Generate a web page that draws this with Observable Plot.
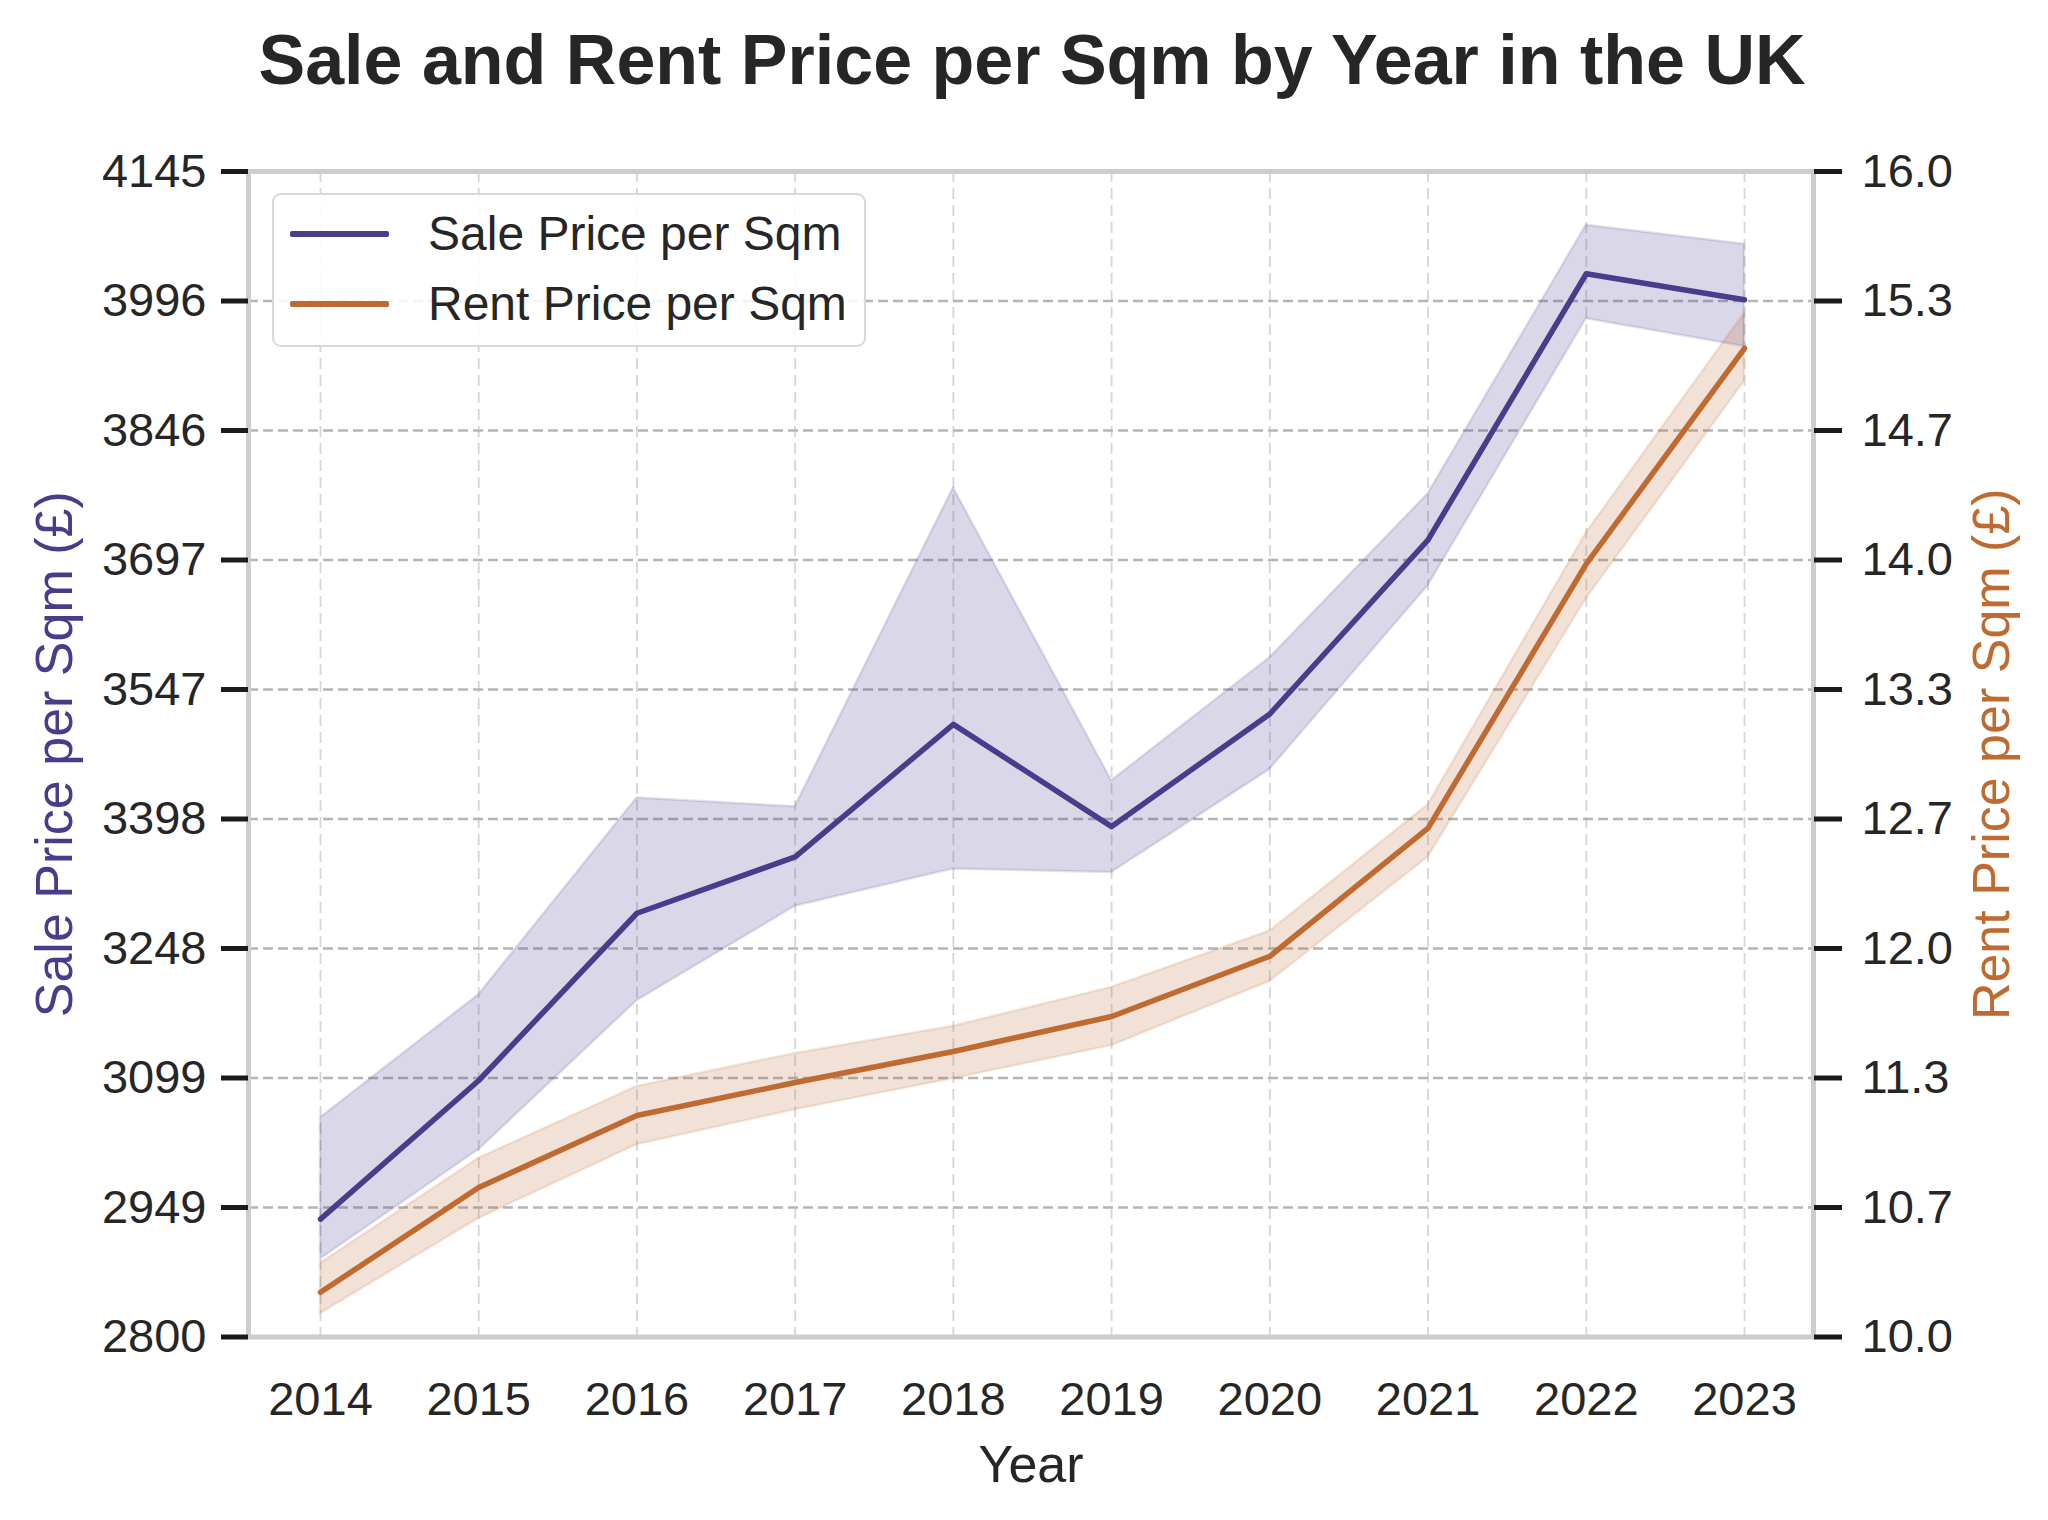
<!DOCTYPE html>
<html>
<head>
<meta charset="utf-8">
<script src="https://cdn.jsdelivr.net/npm/d3@7"></script>
<script src="https://cdn.jsdelivr.net/npm/@observablehq/plot@0.6"></script>
<style>
  html, body { margin: 0; padding: 0; background: #ffffff; }
  body { font-family: "Liberation Sans", Arial, sans-serif; color: #262626; }
  #wrap { position: relative; width: 2048px; height: 1520px; overflow: hidden; }
  #title {
    height: 120px; line-height: 120px; width: 2048px;
    padding-left: 16px; box-sizing: border-box;
    text-align: center; font-weight: bold; font-size: 70px; color: #262626;
    white-space: nowrap;
  }
  #legend {
    position: absolute; left: 272px; top: 193px; width: 594px; height: 154px;
    box-sizing: border-box; border: 2.5px solid #d9d9d9; border-radius: 9px;
    background: rgba(255,255,255,0.85);
  }
  .row { position: absolute; left: 0; height: 60px; width: 100%; }
  .swatch { position: absolute; left: 16px; top: 27px; width: 99px; height: 5.5px; border-radius: 2px; }
  .label { position: absolute; left: 154px; top: 0; height: 60px; line-height: 60px; font-size: 48px; color: #262626; white-space: nowrap; }
</style>
</head>
<body>
<div id="wrap">
  <div id="title">Sale and Rent Price per Sqm by Year in the UK</div>
  <div id="chart"></div>
  <div id="legend"></div>
</div>
<script>
// Yearly averages with their confidence bands
const years = [2014, 2015, 2016, 2017, 2018, 2019, 2020, 2021, 2022, 2023];

const saleMean = [2936, 3096, 3289, 3354, 3507, 3389, 3519, 3720, 4027, 3997];
const saleLow  = [2890, 3016, 3188, 3297, 3340, 3336, 3455, 3667, 3975, 3943];
const saleHigh = [3053, 3195, 3422, 3412, 3780, 3442, 3584, 3773, 4083, 4061];

const rentMean = [10.23, 10.77, 11.14, 11.31, 11.47, 11.65, 11.96, 12.62, 13.98, 15.09];
const rentLow  = [10.12, 10.61, 10.99, 11.17, 11.33, 11.50, 11.83, 12.47, 13.80, 14.92];
const rentHigh = [10.38, 10.92, 11.29, 11.46, 11.60, 11.80, 12.09, 12.74, 14.14, 15.27];

const saleTickLabels = ["2800", "2949", "3099", "3248", "3398", "3547", "3697", "3846", "3996", "4145"];
const rentTickLabels = ["10.0", "10.7", "11.3", "12.0", "12.7", "13.3", "14.0", "14.7", "15.3", "16.0"];

const seriesNames = ["Sale Price per Sqm", "Rent Price per Sqm"];
const axisTitles = { x: "Year", sale: "Sale Price per Sqm (£)", rent: "Rent Price per Sqm (£)" };
const colors = { sale: "#483d8b", rent: "#bf6a30" };

// Both axes share one vertical scale; rent values are mapped onto the sale domain
const saleDomain = [2800, 4145];
const rentDomain = [10, 16];
const ratio = (saleDomain[1] - saleDomain[0]) / (rentDomain[1] - rentDomain[0]);
const rentOnSale = r => saleDomain[0] + (r - rentDomain[0]) * ratio;

const rows = years.map((year, i) => ({
  year,
  sale: saleMean[i], saleLo: saleLow[i], saleHi: saleHigh[i],
  rent: rentOnSale(rentMean[i]), rentLo: rentOnSale(rentLow[i]), rentHi: rentOnSale(rentHigh[i])
}));

// Ten evenly spaced ticks spanning each axis
const tickPos = saleTickLabels.map((_, i) =>
  saleDomain[0] + i * (saleDomain[1] - saleDomain[0]) / (saleTickLabels.length - 1));
const leftLabel = d => saleTickLabels[tickPos.indexOf(d)];
const rightLabel = d => rentTickLabels[tickPos.indexOf(d)];

const chart = Plot.plot({
  width: 2048,
  height: 1400,
  marginTop: 51,
  marginBottom: 183.5,
  marginLeft: 248,
  marginRight: 235,
  style: { fontFamily: "Liberation Sans, Arial, sans-serif", fontSize: "46px", color: "#262626", background: "#ffffff" },
  x: { domain: [2013.545, 2023.436] },
  y: { domain: saleDomain },
  marks: [
    Plot.gridX(years, { stroke: "#d6d6d6", strokeOpacity: 1, strokeWidth: 1.8, strokeDasharray: "11,6" }),
    Plot.gridY(tickPos.slice(1, -1), { stroke: "#b5b5b5", strokeOpacity: 1, strokeWidth: 2.4, strokeDasharray: "10,5" }),
    Plot.areaY(rows, { x: "year", y1: "saleLo", y2: "saleHi", fill: colors.sale, fillOpacity: 0.2, stroke: colors.sale, strokeOpacity: 0.15, strokeWidth: 2.5 }),
    Plot.areaY(rows, { x: "year", y1: "rentLo", y2: "rentHi", fill: colors.rent, fillOpacity: 0.2, stroke: colors.rent, strokeOpacity: 0.15, strokeWidth: 2.5 }),
    Plot.lineY(rows, { x: "year", y: "sale", stroke: colors.sale, strokeWidth: 5.5 }),
    Plot.lineY(rows, { x: "year", y: "rent", stroke: colors.rent, strokeWidth: 5.5 }),
    Plot.frame({ stroke: "#cdcdcd", strokeWidth: 5 }),
    Plot.axisX(years, { anchor: "bottom", tickSize: 0, tickPadding: 45, tickFormat: d => String(d), fontSize: 47, fill: "#262626", label: null }),
    Plot.axisY(tickPos, { anchor: "left", tickSize: 27, tickPadding: 15, stroke: "#1a1a1a", strokeWidth: 5, fill: "#262626", tickFormat: leftLabel, fontSize: 47, label: null }),
    Plot.axisY(tickPos, { anchor: "right", tickSize: 28, tickPadding: 20, stroke: "#1a1a1a", strokeWidth: 5, fill: "#262626", tickFormat: rightLabel, fontSize: 47, label: null }),
    Plot.text([axisTitles.x], { text: d => d, frameAnchor: "bottom", dy: 128, lineAnchor: "middle", fontSize: 52, fill: "#262626" }),
    Plot.text([axisTitles.sale], { text: d => d, frameAnchor: "left", dx: -193, rotate: -90, textAnchor: "middle", lineAnchor: "middle", fontSize: 52, fill: colors.sale }),
    Plot.text([axisTitles.rent], { text: d => d, frameAnchor: "right", dx: 179, rotate: -90, textAnchor: "middle", lineAnchor: "middle", fontSize: 52, fill: colors.rent })
  ]
});
document.getElementById("chart").appendChild(chart);

// Legend box in the upper-left corner of the plot area
const legend = document.getElementById("legend");
[colors.sale, colors.rent].forEach((c, i) => {
  const row = document.createElement("div");
  row.className = "row";
  row.style.top = (i === 0 ? 9 : 79) + "px";
  const sw = document.createElement("div");
  sw.className = "swatch";
  sw.style.background = c;
  const lb = document.createElement("div");
  lb.className = "label";
  lb.textContent = seriesNames[i];
  row.appendChild(sw);
  row.appendChild(lb);
  legend.appendChild(row);
});
</script>
</body>
</html>
